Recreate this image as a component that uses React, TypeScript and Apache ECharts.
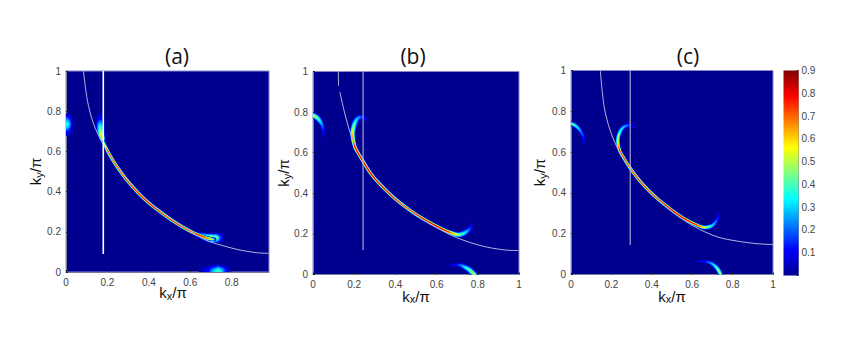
import React, { useEffect, useRef } from "react";
import * as echarts from "echarts";

type P = number[];

const panelTitles = ["(a)", "(b)", "(c)"];
const xMaxes = [0.98, 1, 1];
const yTicks = [0, 0.2, 0.4, 0.6, 0.8, 1];
const colorbarTicks = [0.1, 0.2, 0.3, 0.4, 0.5, 0.6, 0.7, 0.8, 0.9];

// Thin contour per panel
const contourA: P[][] = [[[0.084, 1], [0.103, 0.855], [0.132, 0.74], [0.177, 0.64], [0.26, 0.504], [0.357, 0.39], [0.47, 0.29], [0.63, 0.184], [0.695, 0.151], [0.824, 0.113], [0.92, 0.096], [0.98, 0.093]]];
const contourB: P[][] = [
  [[0.123, 1], [0.124, 0.93]],
  [[0.13, 0.9], [0.154, 0.795], [0.187, 0.68], [0.244, 0.565], [0.325, 0.45], [0.487, 0.302], [0.649, 0.204], [0.747, 0.163], [0.844, 0.135], [0.94, 0.12], [1, 0.118]],
];
const contourC: P[][] = [[[0.145, 1], [0.164, 0.823], [0.193, 0.709], [0.235, 0.61], [0.294, 0.52], [0.392, 0.406], [0.491, 0.316], [0.607, 0.237], [0.722, 0.185], [0.821, 0.164], [0.921, 0.151], [1, 0.147]]];

// Vertical cuts
const cutA: P[] = [[0.18, 0.09], [0.18, 1]];
const cutB: P[] = [[0.243, 0.12], [0.243, 1]];
const cutC: P[] = [[0.293, 0.145], [0.293, 1]];

// Spectral arcs: [kx, ky, intensity, half-spread in kx units]
const arcsA: P[][] = [
  [[0.165, 0.79, 0.02, 0.02], [0.165, 0.76, 0.16, 0.024], [0.165, 0.73, 0.38, 0.024], [0.168, 0.695, 0.58, 0.02], [0.175, 0.665, 0.7, 0.015], [0.185, 0.635, 0.1, 0.01]],
  [[0.003, 0.79, 0.02, 0.028], [0.003, 0.765, 0.22, 0.03], [0.003, 0.735, 0.44, 0.032], [0.003, 0.705, 0.22, 0.03], [0.003, 0.675, 0.02, 0.028]],
  [[0.62, 0.192, 0.1, 0.012], [0.66, 0.178, 0.44, 0.02], [0.7, 0.168, 0.62, 0.026], [0.725, 0.169, 0.52, 0.026], [0.745, 0.171, 0.2, 0.026], [0.765, 0.172, 0.02, 0.024]],
  [[0.64, 0.001, 0.02, 0.03], [0.68, 0.001, 0.12, 0.034], [0.71, 0.001, 0.32, 0.036], [0.735, 0.001, 0.47, 0.038], [0.757, 0.001, 0.3, 0.036], [0.79, 0.001, 0.02, 0.03]],
  [[0.178, 0.655, 0.3, 0.008], [0.2, 0.604, 0.86, 0.009], [0.23, 0.55, 0.88, 0.009], [0.26, 0.504, 0.88, 0.009], [0.3, 0.45, 0.88, 0.009], [0.357, 0.385, 0.88, 0.009], [0.41, 0.335, 0.88, 0.009], [0.47, 0.288, 0.88, 0.009], [0.53, 0.245, 0.88, 0.009], [0.6, 0.203, 0.88, 0.009], [0.66, 0.176, 0.82, 0.009], [0.7, 0.164, 0.68, 0.009], [0.725, 0.162, 0.05, 0.009]],
];
const arcsB: P[][] = [
  [[-0.01, 0.788, 0.6, 0.016], [0.015, 0.776, 0.52, 0.016], [0.029, 0.762, 0.42, 0.016], [0.04, 0.745, 0.32, 0.014], [0.047, 0.725, 0.22, 0.012], [0.05, 0.7, 0.13, 0.01], [0.049, 0.68, 0.06, 0.008], [0.047, 0.655, 0.02, 0.006]],
  [[0.645, 0.042, 0.02, 0.006], [0.685, 0.047, 0.12, 0.01], [0.714, 0.046, 0.24, 0.012], [0.735, 0.037, 0.36, 0.015], [0.755, 0.026, 0.46, 0.016], [0.77, 0.013, 0.54, 0.016], [0.782, 0, 0.6, 0.016], [0.795, -0.015, 0.6, 0.016]],
  [[0.27, 0.76, 0.02, 0.006], [0.25, 0.772, 0.14, 0.012], [0.227, 0.775, 0.26, 0.015], [0.21, 0.76, 0.36, 0.016], [0.198, 0.73, 0.5, 0.016], [0.192, 0.688, 0.68, 0.013], [0.203, 0.63, 0.84, 0.01], [0.22, 0.597, 0.88, 0.009], [0.244, 0.556, 0.88, 0.009], [0.28, 0.498, 0.88, 0.009], [0.325, 0.445, 0.88, 0.009], [0.4, 0.372, 0.88, 0.009], [0.487, 0.305, 0.88, 0.009], [0.56, 0.26, 0.88, 0.009], [0.6, 0.238, 0.88, 0.009], [0.649, 0.214, 0.86, 0.009], [0.698, 0.197, 0.6, 0.013], [0.725, 0.2, 0.44, 0.016], [0.748, 0.213, 0.3, 0.016], [0.766, 0.233, 0.16, 0.013], [0.77, 0.25, 0.07, 0.008], [0.762, 0.27, 0.02, 0.005]],
];
const arcsC: P[][] = [
  [[-0.01, 0.744, 0.52, 0.012], [0.018, 0.732, 0.44, 0.012], [0.036, 0.717, 0.34, 0.013], [0.052, 0.695, 0.24, 0.012], [0.063, 0.668, 0.16, 0.01], [0.064, 0.645, 0.08, 0.008], [0.06, 0.62, 0.02, 0.005]],
  [[0.61, 0.06, 0.02, 0.005], [0.65, 0.064, 0.12, 0.009], [0.681, 0.06, 0.24, 0.011], [0.705, 0.048, 0.36, 0.012], [0.722, 0.032, 0.46, 0.013], [0.735, 0.012, 0.54, 0.013], [0.745, -0.012, 0.58, 0.013]],
  [[0.328, 0.718, 0.02, 0.005], [0.305, 0.728, 0.12, 0.01], [0.284, 0.732, 0.22, 0.012], [0.26, 0.722, 0.32, 0.013], [0.243, 0.7, 0.42, 0.013], [0.232, 0.66, 0.6, 0.011], [0.24, 0.61, 0.84, 0.009], [0.265, 0.565, 0.88, 0.009], [0.294, 0.52, 0.88, 0.009], [0.34, 0.46, 0.88, 0.009], [0.392, 0.405, 0.88, 0.009], [0.44, 0.362, 0.88, 0.009], [0.491, 0.322, 0.88, 0.009], [0.55, 0.28, 0.88, 0.009], [0.607, 0.25, 0.86, 0.009], [0.64, 0.236, 0.76, 0.009], [0.664, 0.231, 0.62, 0.011], [0.695, 0.238, 0.38, 0.013], [0.715, 0.256, 0.26, 0.012], [0.727, 0.28, 0.14, 0.01], [0.725, 0.3, 0.07, 0.007], [0.717, 0.325, 0.02, 0.005]],
];

// Colour levels of the scale
const levels = [0.02, 0.05, 0.08, 0.11, 0.17, 0.23, 0.3, 0.36, 0.42, 0.48, 0.56, 0.62, 0.68, 0.74, 0.79];
const levelColors = ["#0000a8", "#0000cc", "#0000e8", "#0000ff", "#0050ff", "#00a0ff", "#00e0ff", "#20ffe0", "#60ffa0", "#a0ff60", "#ffff00", "#ffc000", "#ff8000", "#ff4000", "#f00000"];
const barStops: [number, string][] = [[0, "#800000"], [0.125, "#ff0000"], [0.375, "#ffff00"], [0.625, "#00ffff"], [0.875, "#0000ff"], [1, "#00008f"]];

const grids = [
  { left: 66, top: 71, width: 203, height: 201 },
  { left: 313, top: 71.5, width: 206, height: 203 },
  { left: 571, top: 70.5, width: 202, height: 204 },
];
const titleX = [172, 408, 683];
const xNameGap = [12, 13, 13];
const yNameGap = [22, 21, 23];
const xNamePad = [[0, 0, 0, 11], [0, 0, 0, 0], [0, 0, 0, 0]];

const fontFamily = "'Liberation Sans', Arial, sans-serif";
const nameText = (sub: string) => `{a|k}{s|${sub}}{a|/π}`;
const rich = {
  a: { fontSize: 15, color: "#111", fontFamily },
  s: { fontSize: 11, color: "#111", fontFamily, verticalAlign: "bottom", padding: [6, 0, 0, 0] },
};

function lineSeries(idx: number, data: P[], color: string, width: number) {
  return {
    type: "line", xAxisIndex: idx, yAxisIndex: idx, data, showSymbol: false, symbol: "none", silent: true, smooth: 0.3,
    clip: true, lineStyle: { color, width, cap: "butt", join: "round" }, z: 3,
  };
}

// Catmull-Rom through the read points, in pixels, carrying intensity and spread.
function sampleArc(pts: number[][]) {
  const out: number[][] = [];
  const n = pts.length;
  const steps = 8;
  for (let i = 0; i < n - 1; i++) {
    const a = pts[Math.max(i - 1, 0)], b = pts[i], c = pts[i + 1], d = pts[Math.min(i + 2, n - 1)];
    for (let s = 0; s < steps; s++) {
      const t = s / steps, t2 = t * t, t3 = t2 * t;
      const row = [0, 1].map((k) =>
        0.5 * (2 * b[k] + (c[k] - a[k]) * t + (2 * a[k] - 5 * b[k] + 4 * c[k] - d[k]) * t2 + (3 * b[k] - a[k] - 3 * c[k] + d[k]) * t3));
      row.push(b[2] + (c[2] - b[2]) * t, b[3] + (c[3] - b[3]) * t);
      out.push(row);
    }
  }
  out.push(pts[n - 1]);
  return out;
}

function arcSeries(idx: number, arc: P[]) {
  return {
    type: "custom", xAxisIndex: idx, yAxisIndex: idx, coordinateSystem: "cartesian2d", silent: true, clip: true, z: 3,
    encode: { x: 0, y: 1 }, data: arc,
    renderItem: (params: any, api: any) => {
      if (params.dataIndex !== 0) return null;
      const origin = api.coord([0, 0]);
      const unit = api.coord([1, 0])[0] - origin[0];
      const px = arc.map((p) => { const c = api.coord([p[0], p[1]]); return [c[0], c[1], p[2], p[3] * unit]; });
      const dense = sampleArc(px);
      const children: any[] = [];
      levels.forEach((lv, k) => {
        const left: number[][] = [], right: number[][] = [];
        dense.forEach((p, i) => {
          if (p[2] < lv) return;
          const a = dense[Math.max(i - 1, 0)], b = dense[Math.min(i + 1, dense.length - 1)];
          const dx = b[0] - a[0], dy = b[1] - a[1], len = Math.hypot(dx, dy) || 1;
          const hw = p[3] * Math.pow(1 - lv / p[2], 0.7);
          left.push([p[0] - (dy / len) * hw, p[1] + (dx / len) * hw]);
          right.push([p[0] + (dy / len) * hw, p[1] - (dx / len) * hw]);
        });
        if (left.length > 1) {
          children.push({ type: "polygon", shape: { points: left.concat(right.reverse()) }, style: { fill: levelColors[k] } });
        }
      });
      return { type: "group", children };
    },
  };
}

export default function App() {
  const ref = useRef<HTMLDivElement>(null);
  useEffect(() => {
    const chart = echarts.init(ref.current!, undefined, { renderer: "svg" });
    const contours = [contourA, contourB, contourC];
    const cuts = [cutA, cutB, cutC];
    const arcs = [arcsA, arcsB, arcsC];
    const series: any[] = [];
    [0, 1, 2].forEach((i) => {
      contours[i].forEach((c) => series.push(lineSeries(i, c, "#b4b4dc", 1)));
      arcs[i].forEach((a) => series.push(arcSeries(i, a)));
      series.push({ ...lineSeries(i, cuts[i], i === 0 ? "#ffffff" : "#c4c4e4", i === 0 ? 1.6 : 1), smooth: false });
    });
    series.push({
      type: "bar", xAxisIndex: 3, yAxisIndex: 3, data: [colorbarTicks[8]], barWidth: "100%", silent: true,
      itemStyle: { color: { type: "linear", x: 0, y: 0, x2: 0, y2: 1, colorStops: barStops.map(([offset, color]) => ({ offset, color })) } },
    });
    const axisBase = {
      type: "value", min: 0, splitLine: { show: false },
      axisLine: { show: true, lineStyle: { color: "#7c7c9c", width: 1 } },
      axisTick: { show: true, inside: true, length: 2, lineStyle: { color: "#222" } },
      axisLabel: { color: "#444", fontSize: 10, fontFamily, margin: 5 },
    };
    chart.setOption({
      animation: false,
      backgroundColor: "#ffffff",
      title: panelTitles.map((text, i) => ({
        text, left: titleX[i], top: 40, textAlign: "center",
        textStyle: { fontFamily: "'Open Sans', sans-serif", fontWeight: "normal", fontSize: 21, color: "#111" },
      })),
      grid: [
        ...grids.map((g) => ({ ...g, show: true, backgroundColor: "#00008f", borderColor: "#8a8ac8", borderWidth: 1 })),
        { left: 783.5, top: 70.5, width: 15, height: 205, show: false },
      ],
      xAxis: [
        ...[0, 1, 2].map((i) => ({
          ...axisBase, gridIndex: i, max: xMaxes[i], interval: 0.2,
          axisLabel: { ...axisBase.axisLabel, showMaxLabel: i !== 0 },
          name: nameText("x"), nameLocation: "middle", nameGap: xNameGap[i], nameMoveOverlap: false,
          nameTextStyle: { rich, padding: xNamePad[i] },
        })),
        { type: "category", gridIndex: 3, data: ["scale"], show: false },
      ],
      yAxis: [
        ...[0, 1, 2].map((i) => ({
          ...axisBase, gridIndex: i, max: yTicks[5], interval: 0.2,
          name: nameText("y"), nameLocation: "middle", nameGap: yNameGap[i], nameMoveOverlap: false, nameTextStyle: { rich },
        })),
        {
          ...axisBase, gridIndex: 3, position: "right", max: 0.9, interval: 0.1,
          axisLine: { show: true, lineStyle: { color: "#888", width: 1 } },
          axisTick: { show: true, inside: true, length: 2, lineStyle: { color: "#333" } },
          axisLabel: { color: "#444", fontSize: 10, fontFamily, margin: 3, formatter: (v: number) => (v === 0 ? "" : String(Math.round(v * 10) / 10)) },
        },
      ],
      series,
    });
    return () => chart.dispose();
  }, []);
  return <div ref={ref} style={{ position: "fixed", left: 0, top: 0, width: 865, height: 357 }} />;
}
